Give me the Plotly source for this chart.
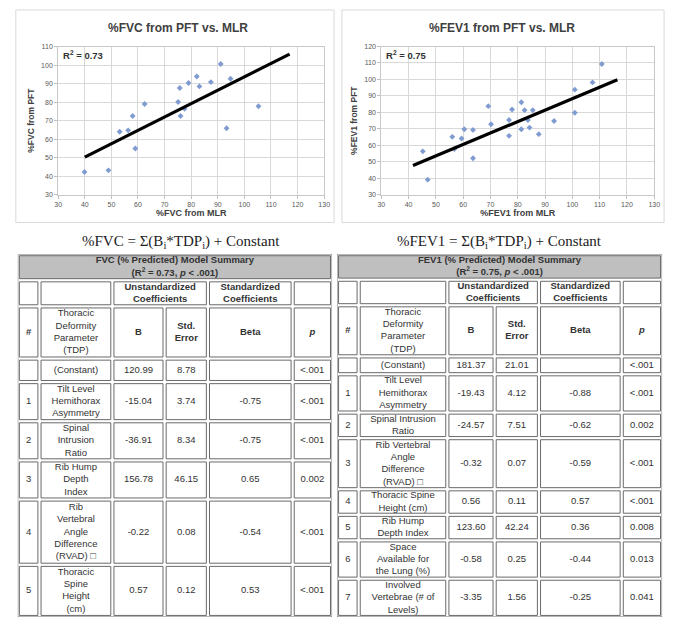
import plotly.graph_objects as go
import numpy as np

W, H = 675, 621

# ---------------- scatter data ----------------
fvc_mlr = [39.9, 48.9, 53.1, 56.3, 58.0, 59.0, 62.5, 75.1, 75.7, 76.0, 77.5,
           79.0, 82.1, 83.1, 87.4, 91.1, 93.3, 94.8, 105.3]
fvc_pft = [42.3, 43.2, 64.0, 64.8, 72.5, 55.0, 79.0, 80.1, 87.6, 72.5, 76.4,
           90.3, 93.8, 88.5, 90.8, 100.6, 65.9, 92.6, 77.8]
fvc_trend_x = [40.0, 117.0]
fvc_trend_y = [50.3, 105.9]
fvc_r2 = "0.73"

fev_mlr = [45.2, 47.0, 56.0, 56.8, 59.4, 60.4, 63.6, 63.6, 69.2, 70.2, 76.8,
           76.8, 77.9, 81.3, 82.5, 81.3, 83.7, 84.3, 85.5, 87.7, 93.3, 100.9,
           100.9, 107.4, 110.8]
fev_pft = [56.4, 39.2, 65.2, 57.8, 64.2, 69.8, 69.4, 52.2, 83.8, 72.8, 75.4,
           65.8, 81.8, 86.2, 81.4, 69.8, 75.4, 70.8, 81.4, 66.8, 74.8, 93.8,
           79.8, 98.2, 109.4]
fev_trend_x = [41.6, 116.5]
fev_trend_y = [47.8, 99.8]
fev_r2 = "0.75"

x_ticks = [30, 40, 50, 60, 70, 80, 90, 100, 110, 120, 130]
fvc_y_ticks = [30, 40, 50, 60, 70, 80, 90, 100, 110]
fev_y_ticks = [30, 40, 50, 60, 70, 80, 90, 100, 110, 120]

# ---------------- table data ----------------
fvc_idx = ["", "1", "2", "3", "4", "5"]
fvc_param = ["(Constant)",
             "Tilt Level<br>Hemithorax<br>Asymmetry",
             "Spinal<br>Intrusion<br>Ratio",
             "Rib Hump<br>Depth<br>Index",
             "Rib<br>Vertebral<br>Angle<br>Difference<br>(RVAD) \u25a1",
             "Thoracic<br>Spine<br>Height<br>(cm)"]
fvc_B = [120.99, -15.04, -36.91, 156.78, -0.22, 0.57]
fvc_SE = [8.78, 3.74, 8.34, 46.15, 0.08, 0.12]
fvc_beta = [None, -0.75, -0.75, 0.65, -0.54, 0.53]
fvc_p = ["<.001", "<.001", "<.001", "0.002", "<.001", "<.001"]

fev_idx = ["", "1", "2", "3", "4", "5", "6", "7"]
fev_param = ["(Constant)",
             "Tilt Level<br>Hemithorax<br>Asymmetry",
             "Spinal Intrusion<br>Ratio",
             "Rib Vertebral<br>Angle<br>Difference<br>(RVAD) \u25a1",
             "Thoracic Spine<br>Height (cm)",
             "Rib Hump<br>Depth Index",
             "Space<br>Available for<br>the Lung (%)",
             "Involved<br>Vertebrae (# of<br>Levels)"]
fev_B = [181.37, -19.43, -24.57, -0.32, 0.56, 123.60, -0.58, -3.35]
fev_SE = [21.01, 4.12, 7.51, 0.07, 0.11, 42.24, 0.25, 1.56]
fev_beta = [None, -0.88, -0.62, -0.59, 0.57, 0.36, -0.44, -0.25]
fev_p = ["<.001", "<.001", "0.002", "<.001", "<.001", "0.008", "0.013", "0.041"]

FONT = "Liberation Sans, Arial, sans-serif"
TXT = "#333333"

fig = go.Figure()


def px_x(p):
    return p / W


def px_y(p):
    return 1 - p / H


# ---------------- scatter charts ----------------
def add_scatter(n, xs, ys, tx, ty, r2, yticks, x_px, y_px, title, xtitle, ytitle):
    xa = "x" if n == 1 else f"x{n}"
    ya = "y" if n == 1 else f"y{n}"
    fig.add_trace(go.Scatter(x=xs, y=ys, mode="markers", xaxis=xa, yaxis=ya,
                             marker=dict(symbol="diamond", size=4.5, color="#7f9bd0",
                                         line=dict(width=0)),
                             showlegend=False, hoverinfo="skip"))
    fig.add_trace(go.Scatter(x=tx, y=ty, mode="lines", xaxis=xa, yaxis=ya,
                             line=dict(color="#000000", width=3.2),
                             showlegend=False, hoverinfo="skip"))
    ax = dict(domain=[px_x(x_px[0]), px_x(x_px[1])], range=[x_ticks[0], x_ticks[-1]],
              tickvals=x_ticks, showgrid=True, gridcolor="#d9d9d9", gridwidth=1,
              zeroline=False, showline=True, linecolor="#c8c8c8", mirror=True,
              ticks="outside", ticklen=3, tickcolor="#bfbfbf",
              tickfont=dict(family=FONT, size=7, color="#595959"),
              title=dict(text=f"<b>{xtitle}</b>", standoff=2,
                         font=dict(family=FONT, size=9, color="#404040")),
              anchor=ya, fixedrange=True)
    ay = dict(domain=[px_y(y_px[1]), px_y(y_px[0])], range=[yticks[0], yticks[-1]],
              tickvals=yticks, showgrid=True, gridcolor="#d9d9d9", gridwidth=1,
              zeroline=False, showline=True, linecolor="#c8c8c8", mirror=True,
              ticks="outside", ticklen=3, tickcolor="#bfbfbf",
              tickfont=dict(family=FONT, size=7, color="#595959"),
              title=dict(text=f"<b>{ytitle}</b>", standoff=5,
                         font=dict(family=FONT, size=8.5, color="#404040")),
              anchor=xa, fixedrange=True)
    key = "" if n == 1 else str(n)
    fig.layout["xaxis" + key] = ax
    fig.layout["yaxis" + key] = ay
    fig.add_annotation(xref=f"{xa} domain", yref=f"{ya} domain", x=0.01, y=0.945,
                       xanchor="left", yanchor="middle", showarrow=False,
                       text=f"<b>R<sup>2</sup> = {r2}</b>",
                       font=dict(family=FONT, size=9.5, color="#333333"))
    cx = (x_px[0] + x_px[1]) / 2
    fig.add_annotation(xref="paper", yref="paper", x=px_x(cx + title[1]), y=px_y(24),
                       xanchor="center", yanchor="middle", showarrow=False,
                       text=f"<b>{title[0]}</b>",
                       font=dict(family=FONT, size=12, color="#404040"))


add_scatter(1, fvc_mlr, fvc_pft, fvc_trend_x, fvc_trend_y, fvc_r2, fvc_y_ticks,
            (55, 325), (43, 193), ("%FVC from PFT vs. MLR", -13),
            "%FVC from MLR", "%FVC from PFT")
add_scatter(2, fev_mlr, fev_pft, fev_trend_x, fev_trend_y, fev_r2, fev_y_ticks,
            (383, 660), (43, 193), ("%FEV1 from PFT vs. MLR", -16),
            "%FEV1 from MLR", "%FEV1 from PFT")

# chart-area borders
for (x0, x1) in [(12, 335), (343, 670)]:
    fig.add_shape(type="rect", xref="paper", yref="paper",
                  x0=px_x(x0), x1=px_x(x1), y0=px_y(221), y1=px_y(6),
                  line=dict(color="#d9d9d9", width=1), fillcolor="rgba(0,0,0,0)",
                  layer="below")

# formula captions
for cx, txt in [(180, "%FVC = \u03a3(B<sub>i</sub>*TDP<sub>i</sub>) + Constant"),
                (503, "%FEV1 = \u03a3(B<sub>i</sub>*TDP<sub>i</sub>) + Constant")]:
    fig.add_annotation(xref="paper", yref="paper", x=px_x(cx), y=px_y(241),
                       xanchor="center", yanchor="middle", showarrow=False, text=txt,
                       font=dict(family="Liberation Serif, Times New Roman, serif",
                                 size=15, color="#222222"))


# ---------------- tables ----------------
def fmt(v):
    return "" if v is None else f"{v:.2f}"


def nl(s):
    return s.count("<br>") + 1


def add_table(n, x_px, y_px, col_w, title, idx, param, B, SE, beta, p, min_units):
    xa, ya = f"x{n}", f"y{n}"
    edges = np.concatenate([[0], np.cumsum(col_w)])
    tw = float(edges[-1])
    sub_hdr = [(0, 1, ""), (1, 2, ""), (2, 4, "<b>Unstandardized<br>Coefficients</b>"),
               (4, 5, "<b>Standardized<br>Coefficients</b>"), (5, 6, "")]
    col_hdr = ["<b>#</b>", "Thoracic<br>Deformity<br>Parameter<br>(TDP)", "<b>B</b>",
               "<b>Std.<br>Error</b>", "<b>Beta</b>", "<b><i>p</i></b>"]
    body = [[idx[i], param[i], fmt(B[i]), fmt(SE[i]), fmt(beta[i]),
             p[i].replace("<", "&lt;")] for i in range(len(param))]
    units = [nl(title), 2, max(nl(c) for c in col_hdr)]
    units += [max(min_units, max(nl(c) for c in r)) for r in body]
    y_edges = np.concatenate([[0], np.cumsum(units)])
    total = float(y_edges[-1])
    upy = total / (y_px[1] - y_px[0])   # y units per pixel
    ix, iy = 1.6, 1.6 * upy

    def cell(x0, x1, y0, y1, fill="white"):
        fig.add_shape(type="rect", xref=xa, yref=ya, x0=x0 + ix, x1=x1 - ix,
                      y0=y0 + iy, y1=y1 - iy, line=dict(color="#6a6a6a", width=1),
                      fillcolor=fill, layer="below")

    # outer border
    fig.add_shape(type="rect", xref=xa, yref=ya, x0=0, x1=tw, y0=0, y1=total,
                  line=dict(color="#6a6a6a", width=1), fillcolor="white", layer="below")

    hx, hy, ht = [], [], []
    bx, by, bt = [], [], []
    # title row
    cell(0, tw, y_edges[0], y_edges[1], fill="#bfbfbf")
    hx.append(tw / 2); hy.append((y_edges[0] + y_edges[1]) / 2); ht.append(title)
    # sub header row
    for a, b, t in sub_hdr:
        cell(edges[a], edges[b], y_edges[1], y_edges[2])
        if t:
            hx.append((edges[a] + edges[b]) / 2); hy.append((y_edges[1] + y_edges[2]) / 2)
            ht.append(t)
    # column header
    for j, t in enumerate(col_hdr):
        cell(edges[j], edges[j + 1], y_edges[2], y_edges[3])
        hx.append((edges[j] + edges[j + 1]) / 2); hy.append((y_edges[2] + y_edges[3]) / 2)
        ht.append(t)
    # body
    for i, r in enumerate(body):
        r0, r1 = y_edges[3 + i], y_edges[4 + i]
        for j, t in enumerate(r):
            cell(edges[j], edges[j + 1], r0, r1)
            if t:
                bx.append((edges[j] + edges[j + 1]) / 2); by.append((r0 + r1) / 2)
                bt.append(t)

    fig.add_trace(go.Scatter(x=hx, y=hy, text=ht, mode="text", xaxis=xa, yaxis=ya,
                             textposition="middle center", cliponaxis=False,
                             textfont=dict(family=FONT, size=9.5, color=TXT),
                             showlegend=False, hoverinfo="skip"))
    fig.add_trace(go.Scatter(x=bx, y=by, text=bt, mode="text", xaxis=xa, yaxis=ya,
                             textposition="middle center", cliponaxis=False,
                             textfont=dict(family=FONT, size=9.5, color=TXT),
                             showlegend=False, hoverinfo="skip"))
    fig.layout[f"xaxis{n}"] = dict(domain=[px_x(x_px[0]), px_x(x_px[1])], range=[0, tw],
                                   visible=False, fixedrange=True, anchor=ya)
    fig.layout[f"yaxis{n}"] = dict(domain=[px_y(y_px[1]), px_y(y_px[0])],
                                   range=[total, 0], visible=False, fixedrange=True,
                                   anchor=xa)


add_table(3, (14, 333), (253, 620), [22, 74, 53, 44, 86, 40],
          "<b>FVC (% Predicted) Model Summary<br>(R<sup>2</sup> = 0.73, <i>p</i> &lt; .001)</b>",
          fvc_idx, fvc_param, fvc_B, fvc_SE, fvc_beta, fvc_p, 1.8)
add_table(4, (338, 668), (253, 620), [22, 90, 48, 45, 84, 41],
          "<b>FEV1 (% Predicted) Model Summary<br>(R<sup>2</sup> = 0.75, <i>p</i> &lt; .001)</b>",
          fev_idx, fev_param, fev_B, fev_SE, fev_beta, fev_p, 1.4)

fig.update_layout(width=W, height=H, margin=dict(l=0, r=0, t=0, b=0),
                  paper_bgcolor="white", plot_bgcolor="white", showlegend=False)

fig.write_html("out.html", config={"displayModeBar": False},
               post_script="document.body.style.margin='0';document.body.style.overflow='hidden';")
